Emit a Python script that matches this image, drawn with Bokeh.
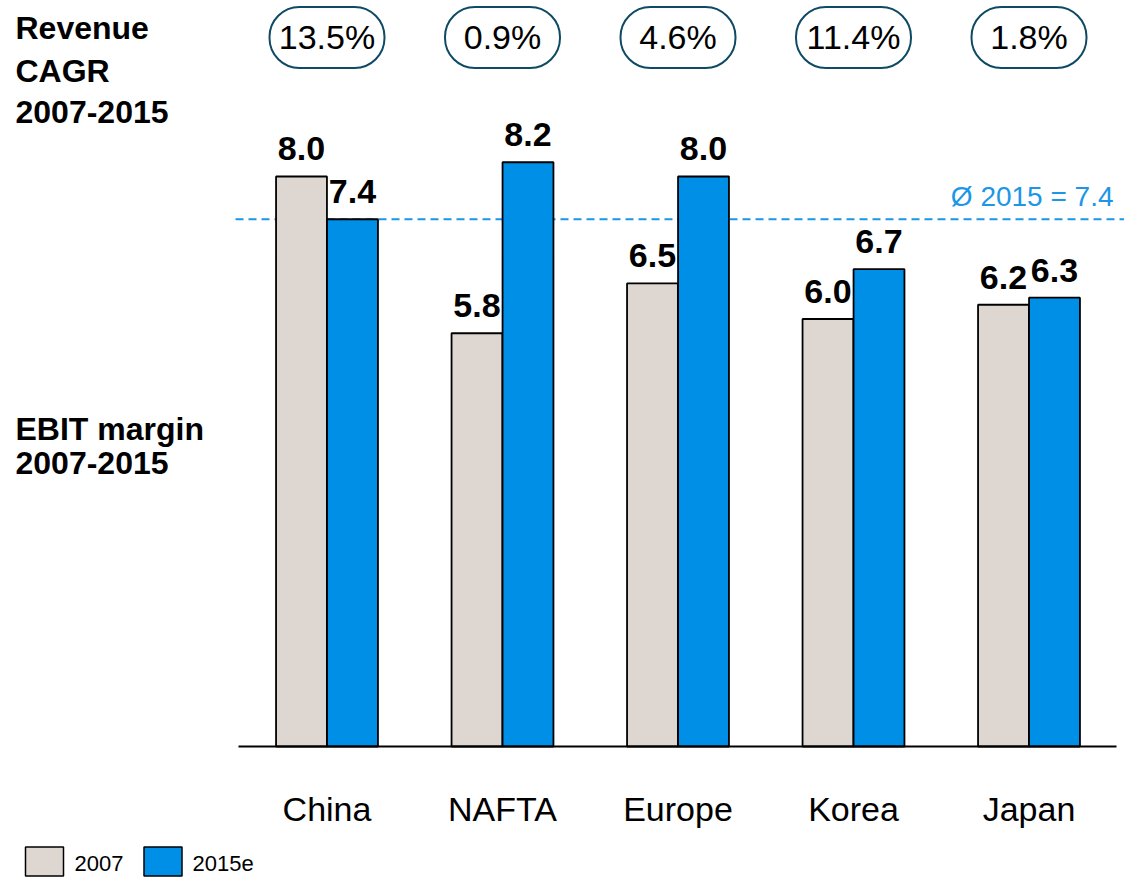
import numpy as np
from bokeh.plotting import figure
from bokeh.models import Range1d, ColumnDataSource
from bokeh.core.properties import value
from bokeh.embed import file_html
from bokeh.resources import INLINE

# ---- data ----
categories = ["China", "NAFTA", "Europe", "Korea", "Japan"]
ebit_2007 = [8.0, 5.8, 6.5, 6.0, 6.2]
ebit_2015 = [7.4, 8.2, 8.0, 6.7, 6.3]
revenue_cagr = ["13.5%", "0.9%", "4.6%", "11.4%", "1.8%"]
avg_2015 = 7.4
series_names = ["2007", "2015e"]

# ---- layout helpers (image pixel -> data coords) ----
X0, DX = 326.5, 175.5
Y0, DY = 746.0, 71.25
def ux(px):
    return (px - X0) / DX
def vy(py):
    return (Y0 - py) / DY

K = 0.37  # baseline correction factor (fraction of font size)
def fix(size):
    return -K * size

FONT = "Liberation Sans"
C07 = "#DDD6D1"
C15 = "#008FE6"
PILL = "#0E4A64"
AVGC = "#1C96E6"

W, H = 1124, 878
p = figure(width=W, height=H, x_range=Range1d(ux(0), ux(W)),
           y_range=Range1d(vy(H), vy(0)), toolbar_location=None,
           output_backend="svg", min_border=0,
           x_axis_location=None, y_axis_location=None)
p.grid.visible = False
p.outline_line_color = None
p.background_fill_color = "white"
p.border_fill_color = "white"

idx = np.arange(len(categories), dtype=float)
off = 0.1453
bw = 0.29

# average line
p.segment(x0=[ux(235)], x1=[ux(1124)], y0=[avg_2015], y1=[avg_2015],
          line_color=AVGC, line_width=2, line_dash="8 5")

src = ColumnDataSource(dict(x07=idx - off, x15=idx + off, v07=ebit_2007, v15=ebit_2015,
                            l07=[f"{v:.1f}" for v in ebit_2007],
                            l15=[f"{v:.1f}" for v in ebit_2015],
                            xc=idx, cat=categories, cagr=revenue_cagr))

p.vbar(x="x07", top="v07", bottom=0, width=bw, source=src,
       fill_color=C07, line_color="black", line_width=1.8)
p.vbar(x="x15", top="v15", bottom=0, width=bw, source=src,
       fill_color=C15, line_color="black", line_width=1.8)

# baseline
p.segment(x0=[ux(238)], x1=[ux(1116)], y0=[0], y1=[0], line_color="black", line_width=2)

# value labels
for xk, vk, lk in (("x07", "v07", "l07"), ("x15", "v15", "l15")):
    p.text(x=xk, y=vk, text=lk, source=src, y_offset=-15 + fix(34),
           text_align="center", text_baseline="alphabetic",
           text_font=value(FONT), text_font_style="bold",
           text_font_size="34px", text_color="black")

# category labels
p.text(x="xc", y=0, text="cat", source=src, y_offset=75 + fix(34),
       text_align="center", text_baseline="alphabetic",
       text_font=value(FONT), text_font_size="34px", text_color="black")

# CAGR pills
p.rect(x="xc", y=vy(37), width=115, height=61, width_units="screen",
       height_units="screen", source=src, fill_color="white",
       line_color=PILL, line_width=2, border_radius=30)
p.text(x="xc", y=vy(49), text="cagr", source=src, y_offset=fix(34),
       text_align="center", text_baseline="alphabetic",
       text_font=value(FONT), text_font_size="34px", text_color="black")

# average label
p.text(x=[ux(1113)], y=[avg_2015], text=[f"\u00d8 2015 = {avg_2015:.1f}"],
       y_offset=-12 + fix(28),
       text_align="right", text_baseline="alphabetic",
       text_font=value(FONT), text_font_size="28px", text_color=AVGC)

# left headings
p.text(x=[ux(15)] * 3, y=[vy(39), vy(82), vy(123)],
       text=["Revenue", "CAGR", "2007-2015"], y_offset=fix(32),
       text_align="left", text_baseline="alphabetic",
       text_font=value(FONT), text_font_style="bold", text_font_size="32px",
       text_color="black")
p.text(x=[ux(15)] * 2, y=[vy(440), vy(474)],
       text=["EBIT margin", "2007-2015"], y_offset=fix(32),
       text_align="left", text_baseline="alphabetic",
       text_font=value(FONT), text_font_style="bold", text_font_size="32px",
       text_color="black")

# legend
p.rect(x=[ux(44), ux(162.5)], y=[vy(861)] * 2, width=38, height=29,
       width_units="screen", height_units="screen",
       fill_color=[C07, C15], line_color="black", line_width=1.5)
p.text(x=[ux(74), ux(192)], y=[vy(871)] * 2, text=series_names, y_offset=fix(22),
       text_align="left", text_baseline="alphabetic",
       text_font=value(FONT), text_font_size="22px", text_color="black")

open("out.html", "w").write(file_html(p, INLINE))
